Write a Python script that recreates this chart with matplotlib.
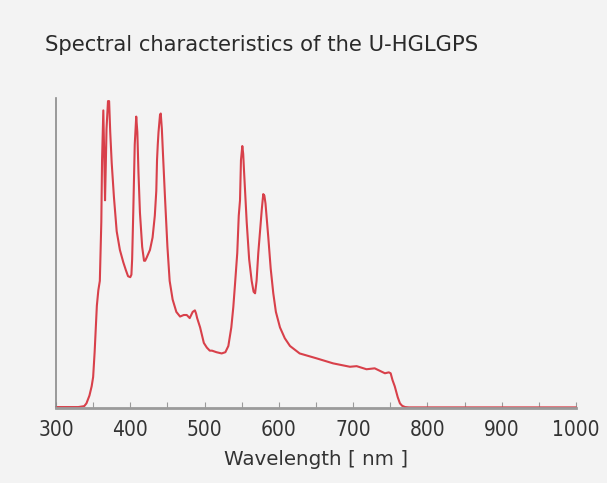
import matplotlib
matplotlib.use("Agg")
import matplotlib.pyplot as plt
import numpy as np

wavelength = [300, 330, 338, 341, 345, 348, 350, 352, 355, 357, 359, 361, 362, 363.7, 365, 366, 367, 368, 370, 371.5, 373, 375, 378, 381.7,
              386, 390.6, 394, 397, 400, 401.5, 402.5, 404, 406, 408, 409.5, 411, 413, 416, 418.5, 420, 422, 426.5, 430,
              433, 435, 436, 437, 438, 440, 441, 442.5, 444, 446.7, 450, 453, 457, 462, 467, 472, 476, 480, 484, 487, 488.5,
              490, 494, 499, 503, 507, 510, 516, 523, 528, 532, 536, 538.7, 541, 544, 546, 547.7, 549,
              550.8, 552, 553, 556.7, 560, 563.4, 566, 568, 570, 572.3, 575, 577, 579, 580.5, 582, 585.8, 589,
              592.5, 596, 601.5, 608, 615, 628, 651, 673, 695.7, 704.7, 718, 729, 742.8, 748, 750.5, 753,
              756, 760, 763, 766, 770, 775, 800, 1000]
intensity = [0.3, 0.3, 0.6, 1.5, 4, 7, 10, 18, 33, 38, 41, 60, 80, 96, 80, 67, 78, 90, 99, 99, 89, 79, 68, 57,
             51, 47, 44.5, 42.5, 42.2, 43, 48, 63, 85, 94, 89, 76, 63, 52, 47.5, 47.5, 48.5, 51, 55,
             62, 70, 80, 85, 89, 94.5, 95, 90, 82, 68, 52, 41, 35, 31, 29.5, 30, 30, 29, 31, 31.5, 30.5,
             29, 26, 21, 19.5, 18.5, 18.5, 18, 17.6, 18, 20, 26, 32.6, 40, 50, 62, 67, 80,
             84.5, 82, 77, 60, 48, 41, 37.5, 37, 41, 50, 58, 64, 69, 68.5, 66, 55, 45,
             37, 31, 26, 22.5, 20, 17.6, 16, 14.4, 13.3, 13.5, 12.5, 12.8, 11.2, 11.5, 11.2, 9,
             7, 3.5, 1.5, 0.7, 0.3, 0.2, 0.2, 0.2]
xticks = [300, 400, 500, 600, 700, 800, 900, 1000]
minor_ticks = [350, 450, 550, 650, 750, 850, 950]

bg = "#f3f3f3"
fig = plt.figure(figsize=(6.07, 4.83), dpi=100, facecolor=bg)
ax = fig.add_axes([56/607, 75/483, 520/607, 310/483], facecolor=bg)

ax.plot(wavelength, intensity, color="#d8404a", lw=1.5, clip_on=False,
        solid_joinstyle="round", solid_capstyle="round")
ax.set_xlim(300, 1000)
ax.set_ylim(0, 100)

for s in ["top", "right"]:
    ax.spines[s].set_visible(False)
ax.spines["left"].set_color("#8a8a8a")
ax.spines["left"].set_linewidth(1.2)
ax.spines["bottom"].set_color("#9a9a9a")
ax.spines["bottom"].set_linewidth(2.0)
ax.set_yticks([])
ax.set_xticks(xticks)
ax.set_xticks(minor_ticks, minor=True)
ax.tick_params(axis="x", which="both", direction="in", length=4, width=0.8, color="#9a9a9a", pad=9)
ax.set_xticklabels([str(t) for t in xticks], fontsize=15, family="DejaVu Sans",
                   fontstretch="condensed", color="#333333")
ax.set_xlabel("Wavelength [ nm ]", fontsize=14.3, family="DejaVu Sans",
              color="#333333", labelpad=7)

fig.text(45/607, 1 - 45/483, "Spectral characteristics of the U-HGLGPS", fontsize=15.2,
         family="DejaVu Sans", color="#2a2a2a", va="center", ha="left")

fig.savefig("out.png", dpi=100, facecolor=bg)
